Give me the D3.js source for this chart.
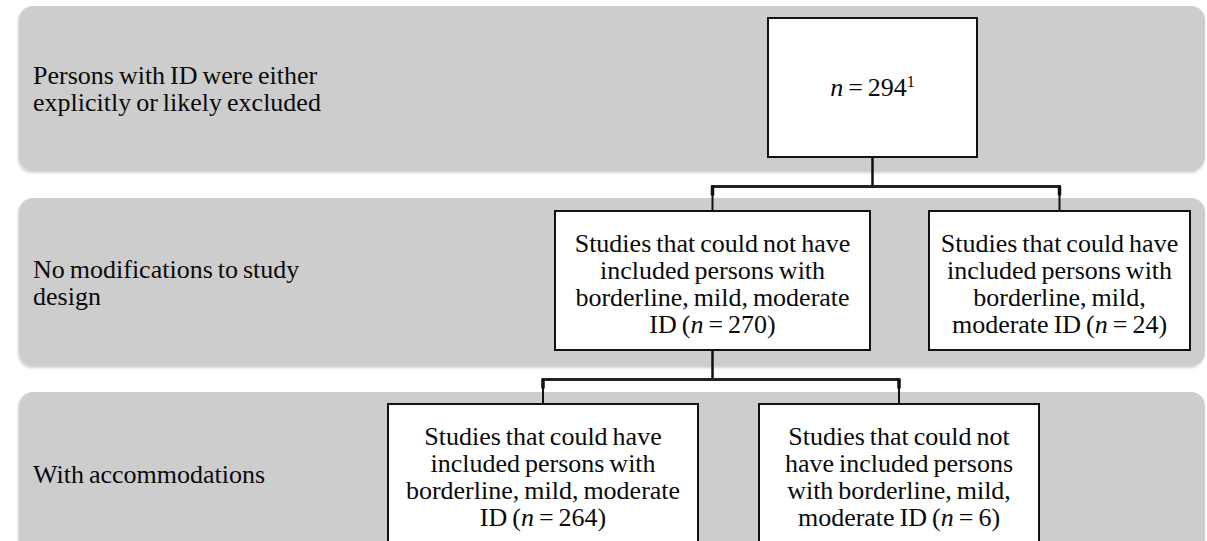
<!DOCTYPE html>
<html>
<head>
<meta charset="utf-8">
<script src="https://cdn.jsdelivr.net/npm/d3@7"></script>
<style>
  html, body { margin: 0; padding: 0; background: #ffffff; }
  svg { display: block; }
  text { font-family: "Liberation Serif", "Times New Roman", serif; fill: #0a0a0a; }
</style>
</head>
<body>
<svg id="chart" width="1207" height="541"></svg>
<script>
// ---------------- data ----------------
const levelLabels = [
  ["Persons with ID were either", "explicitly or likely excluded"],
  ["No modifications to study", "design"],
  ["With accommodations"]
];
const nodeCounts  = [294, 270, 24, 264, 6];
const nodeLevels  = [0, 1, 1, 2, 2];
const nodeParents = [-1, 0, 0, 1, 1];
const nodeLines = [
  ["@1"],
  ["Studies that could not have", "included persons with", "borderline, mild, moderate", "ID (@)"],
  ["Studies that could have", "included persons with", "borderline, mild,", "moderate ID (@)"],
  ["Studies that could have", "included persons with", "borderline, mild, moderate", "ID (@)"],
  ["Studies that could not", "have included persons", "with borderline, mild,", "moderate ID (@)"]
];

// ---------------- layout ----------------
const W = 1207, H = 541;
const bandTop    = [6, 198, 392];
const bandBottom = [171, 366, 555];
const bandX0 = 19, bandX1 = 1205, bandR = 14;
const nodeX = [[768, 977], [555, 870], [929, 1190], [388, 698], [759, 1039]];
const nodeTopPad = [12, 13, 13, 12, 12];
const nodeBottomPad = [14, 16, 16, null, null];
const fontSize = 26, lineH = 27;

const svg = d3.select("#chart");

const defs = svg.append("defs");
const f = defs.append("filter").attr("id", "sh").attr("x", "-5%").attr("y", "-5%").attr("width", "110%").attr("height", "115%");
f.append("feDropShadow").attr("dx", -1).attr("dy", 2).attr("stdDeviation", 1.2).attr("flood-color", "#000").attr("flood-opacity", 0.18);

// bands
svg.append("g").selectAll("rect.band")
  .data(levelLabels)
  .join("rect")
  .attr("class", "band")
  .attr("x", bandX0)
  .attr("y", (d, i) => bandTop[i])
  .attr("width", bandX1 - bandX0)
  .attr("height", (d, i) => bandBottom[i] - bandTop[i])
  .attr("rx", bandR).attr("ry", bandR)
  .attr("fill", "#cdcdcd")
  .attr("filter", "url(#sh)");

// level labels (one text per line)
const labG = svg.append("g");
levelLabels.forEach((lines, i) => {
  const c = (bandTop[i] + bandBottom[i]) / 2;
  lines.forEach((line, j) => {
    labG.append("text")
      .attr("font-size", fontSize)
      .attr("word-spacing", -1.5)
      .attr("x", 33)
      .attr("y", c - (lines.length - 1) * lineH / 2 + j * lineH + 9)
      .text(line);
  });
});

// node boxes
const nodes = nodeCounts.map((c, i) => {
  const lv = nodeLevels[i];
  const top = bandTop[lv] + nodeTopPad[i];
  const bottom = nodeBottomPad[i] == null ? H + 20 : bandBottom[lv] - nodeBottomPad[i];
  return { i, count: c, lines: nodeLines[i], x0: nodeX[i][0], x1: nodeX[i][1], y0: top, y1: bottom,
           cx: (nodeX[i][0] + nodeX[i][1]) / 2 };
});

// connectors
const linkG = svg.append("g");
nodes.forEach(p => {
  const kids = nodes.filter(n => nodeParents[n.i] === p.i);
  if (!kids.length) return;
  const midY = p.y1 + 29.5;
  linkG.append("line").attr("x1", p.cx).attr("x2", p.cx).attr("y1", p.y1).attr("y2", midY)
    .attr("stroke", "#111").attr("stroke-width", 2.5);
  const xs = d3.extent(kids, k => k.cx);
  linkG.append("line").attr("x1", xs[0] - 1.5).attr("x2", xs[1] + 1.5).attr("y1", midY).attr("y2", midY)
    .attr("stroke", "#222").attr("stroke-width", 3);
  kids.forEach(k => {
    linkG.append("line").attr("x1", k.cx).attr("x2", k.cx).attr("y1", midY).attr("y2", k.y0)
      .attr("stroke", "#111").attr("stroke-width", 2);
    linkG.append("line").attr("x1", k.cx).attr("x2", k.cx).attr("y1", midY).attr("y2", midY + 9)
      .attr("stroke", "#111").attr("stroke-width", 3.5);
  });
});

const ng = svg.append("g").selectAll("g.node").data(nodes).join("g").attr("class", "node");
ng.append("rect")
  .attr("x", d => d.x0).attr("y", d => d.y0)
  .attr("width", d => d.x1 - d.x0).attr("height", d => d.y1 - d.y0)
  .attr("fill", "#ffffff").attr("stroke", "#111").attr("stroke-width", 2);

ng.each(function(d) {
  const g = d3.select(this);
  const firstCenter = d.i === 0 ? (d.y0 + d.y1) / 2 - 1 : d.y0 + 32;
  d.lines.forEach((line, j) => {
    const t = g.append("text")
      .attr("x", d.cx)
      .attr("y", firstCenter + j * lineH + 9)
      .attr("text-anchor", "middle")
      .attr("font-size", fontSize)
      .attr("word-spacing", -1.5);
    const parts = line.split("@");
    if (parts.length === 1) { t.text(line); return; }
    if (parts[0]) t.append("tspan").text(parts[0]);
    t.append("tspan").attr("font-style", "italic").text("n");
    t.append("tspan").text(" = " + d.count);
    const rest = parts[1];
    if (rest === "1") {
      t.append("tspan").attr("font-size", 16).attr("dy", -9).text("1");
    } else {
      t.append("tspan").text(rest);
    }
  });
});
</script>
</body>
</html>
